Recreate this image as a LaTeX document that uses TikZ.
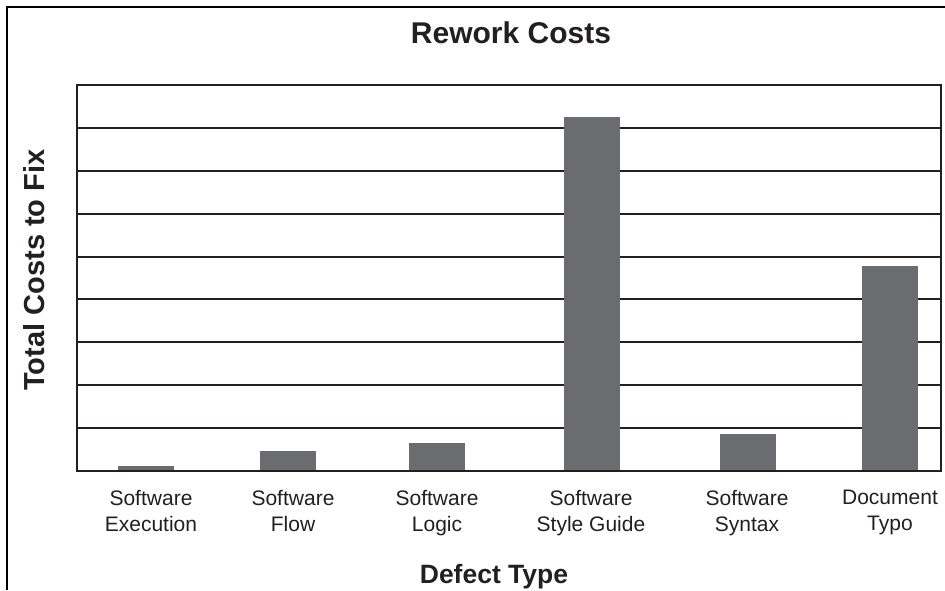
\documentclass[tikz,border=0pt]{standalone}
\usepackage{fontspec}
\setmainfont{Liberation Sans}
\definecolor{ink}{HTML}{231F20}
\definecolor{barc}{HTML}{6B6C70}
\tikzset{
  frame/.style={draw=black, line width=2pt},
  axisbox/.style={draw=ink, line width=2pt},
  grid line/.style={draw=ink, line width=2pt},
  bar/.style={fill=barc},
  cat/.style={text=ink, align=center, font=\fontsize{21}{26}\selectfont, inner sep=0pt},
  ttl/.style={text=ink, inner sep=0pt}
}
\begin{document}
\begin{tikzpicture}[x=1pt,y=-1pt]
\useasboundingbox (0,0) rectangle (945,590);
% outer frame (left and top only)
\draw[frame] (7,590) -- (7,7) -- (945,7);
% gridlines
\foreach \k in {1,...,8} {
  \draw[grid line] (77,{85+42.89*\k}) -- (941,{85+42.89*\k});
}
% bars
\fill[bar] (118,471) rectangle (174,466);
\fill[bar] (260,471) rectangle (316,451);
\fill[bar] (409,471) rectangle (465,443);
\fill[bar] (564,471) rectangle (620,117);
\fill[bar] (720,471) rectangle (776,434);
\fill[bar] (862,471) rectangle (918,266);
% plot box
\draw[axisbox] (77,85) rectangle (941,471);
% titles
\node[ttl, font=\fontsize{30}{34}\selectfont\bfseries] (title) at (511,33) {Rework Costs};
\node[ttl, font=\fontsize{26.5}{30}\selectfont\bfseries] (xlab) at (494,577) {Defect Type};
\node[ttl, font=\fontsize{29}{33}\selectfont\bfseries, rotate=90] (ylab) at (34,270) {Total Costs to Fix};
% category labels
\node[cat, anchor=north] (c1) at (151,490) {Software\\Execution};
\node[cat, anchor=north] (c2) at (293,490) {Software\\Flow};
\node[cat, anchor=north] (c3) at (437,490) {Software\\Logic};
\node[cat, anchor=north] (c4) at (591,490) {Software\\Style Guide};
\node[cat, anchor=north] (c5) at (747,490) {Software\\Syntax};
\node[cat, anchor=north] (c6) at (890,490) {Document\\Typo};
\end{tikzpicture}
\end{document}
